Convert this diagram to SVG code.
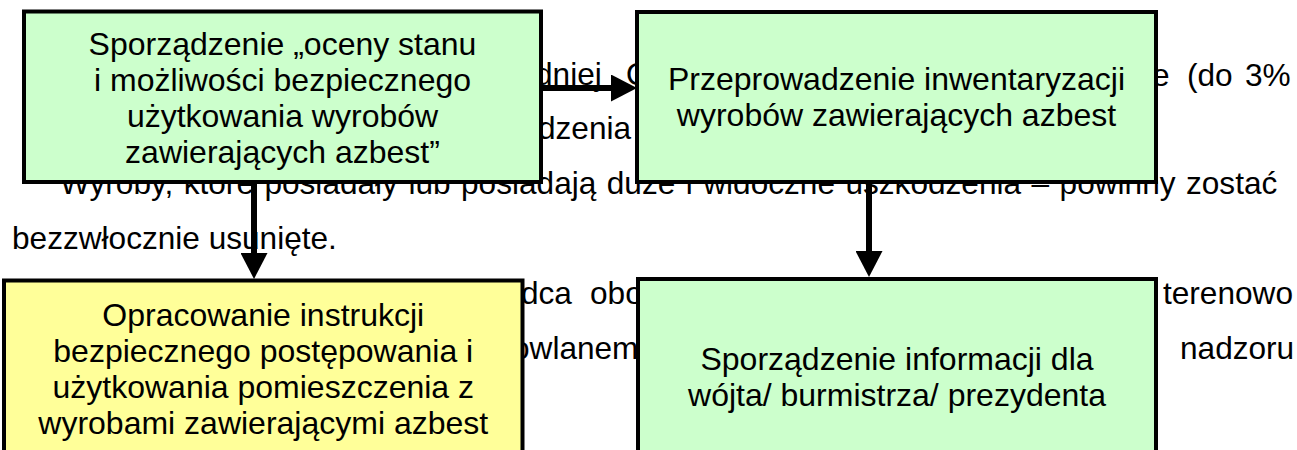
<svg xmlns="http://www.w3.org/2000/svg" width="1297" height="450" viewBox="0 0 1297 450">
<defs>
<style>
.bg{font-family:"Liberation Sans",Arial,sans-serif;font-size:31.6px;fill:#000}
.lbl{font-family:"Liberation Sans",Arial,sans-serif;font-size:32px;fill:#000;text-anchor:middle}
.green{fill:#CCFFCC;stroke:#000;stroke-width:4}
.yellow{fill:#FFFF99;stroke:#000;stroke-width:4}
.conn{stroke:#000;stroke-width:6;fill:none}
</style>
<marker id="ah" markerUnits="userSpaceOnUse" markerWidth="26" markerHeight="27" viewBox="0 0 26 27" refX="0" refY="13.5" orient="auto">
<path d="M0,0 L26,13.5 L0,27 Z" fill="#000"/>
</marker>
</defs>
<rect x="0" y="0" width="1297" height="450" fill="#fff"/>
<g id="background-text" class="bg">
<text x="535" y="85">dniej</text>
<text x="626" y="85">O</text>
<text y="86"><tspan x="1152">e</tspan><tspan x="1187">(do</tspan><tspan x="1245">3%</tspan></text>
<text x="538" y="139">dzenia</text>
<text x="60" y="194" word-spacing="1.7">Wyroby, które posiadały lub posiadają duże i widoczne uszkodzenia – powinny zostać</text>
<text x="12" y="249">bezzwłocznie usunięte.</text>
<text x="521" y="304">dca</text>
<text x="590" y="304">obo</text>
<text x="1163" y="304">terenowo</text>
<text x="512" y="359">owlanem</text>
<text x="1180" y="359">nadzoru</text>
</g>
<g id="node-ocena">
<rect class="green" x="24" y="11.5" width="517" height="170.5"/>
<text class="lbl" x="282.5" y="55">Sporządzenie „oceny stanu</text>
<text class="lbl" x="282.5" y="91">i możliwości bezpiecznego</text>
<text class="lbl" x="282.5" y="127">użytkowania wyrobów</text>
<text class="lbl" x="282.5" y="163">zawierających azbest”</text>
</g>
<g id="node-inwentaryzacja">
<rect class="green" x="637" y="12" width="519" height="170"/>
<text class="lbl" x="896.5" y="90">Przeprowadzenie inwentaryzacji</text>
<text class="lbl" x="896.5" y="126">wyrobów zawierających azbest</text>
</g>
<g id="node-instrukcja">
<rect class="yellow" x="4" y="280.5" width="518.5" height="200"/>
<text class="lbl" x="263.25" y="326">Opracowanie instrukcji</text>
<text class="lbl" x="263.25" y="362">bezpiecznego postępowania i</text>
<text class="lbl" x="263.25" y="398">użytkowania pomieszczenia z</text>
<text class="lbl" x="263.25" y="434">wyrobami zawierającymi azbest</text>
</g>
<g id="node-informacja">
<rect class="green" x="638" y="279" width="518" height="200"/>
<text class="lbl" x="897" y="370">Sporządzenie informacji dla</text>
<text class="lbl" x="897" y="406">wójta/ burmistrza/ prezydenta</text>
</g>
<g id="connectors">
<line class="conn" x1="543" y1="88" x2="611" y2="88" marker-end="url(#ah)"/>
<line class="conn" x1="254" y1="184" x2="254" y2="253" marker-end="url(#ah)"/>
<line class="conn" x1="869" y1="184" x2="869" y2="251" marker-end="url(#ah)"/>
</g>
</svg>
